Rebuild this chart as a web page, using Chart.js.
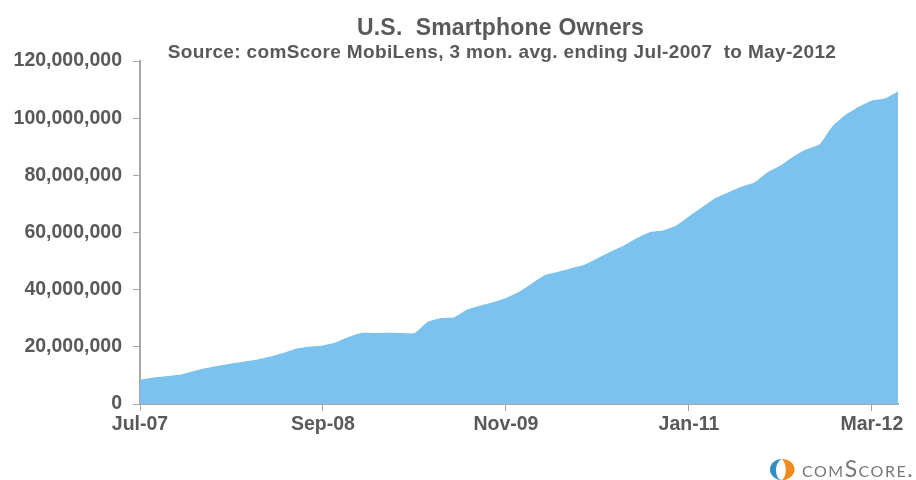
<!DOCTYPE html>
<html>
<head>
<meta charset="utf-8">
<script src="https://cdn.jsdelivr.net/npm/chart.js@4"></script>
<style>
  html, body { margin: 0; padding: 0; background: #fff; }
  .chart-box { position: relative; width: 916px; height: 480px; overflow: hidden; }
  .chart-head { position: absolute; left: 0; white-space: nowrap; text-align: center; color: #595959; font-family: "Liberation Sans", sans-serif; font-weight: bold; }
  #chart_title { top: 13px; width: 1001px; font-size: 23px; line-height: 28px; letter-spacing: 0.2px; }
  #chart_source { top: 41px; width: 1004px; font-size: 19px; line-height: 22px; letter-spacing: 0.35px; }
  .logo { position: absolute; left: 770px; top: 459px; width: 146px; height: 21px; }
  .logo svg { position: absolute; left: 0; top: 0; }
  .logo span {
    position: absolute; left: 32px; top: -5px;
    font: 23px Lato, sans-serif;
    font-variant: small-caps;
    letter-spacing: 1.5px;
    color: #777;
    white-space: nowrap;
  }
</style>
</head>
<body>
<div class="chart-box">
  <canvas id="owners_chart" width="916" height="480"></canvas>
  <div class="chart-head" id="chart_title">U.S.&nbsp; Smartphone Owners</div>
  <div class="chart-head" id="chart_source">Source: comScore MobiLens, 3 mon. avg. ending Jul-2007&nbsp; to May-2012</div>
  <div class="logo">
    <svg width="25" height="21" viewBox="0 0 25 21">
      <path d="M12 0 A12 10.5 0 0 0 12 21 C8 21 6 16 6 11 C6 6 8 2 12 0 Z" fill="#2f8fc6"/>
      <path d="M12 0 A12.5 10.5 0 0 1 12 21 C17 17 17 5 12 0 Z" fill="#f08c1e"/>
    </svg>
    <span>comScore.</span>
  </div>
</div>
<script>
const months = [
  "Jul-07", "Aug-07", "Sep-07", "Oct-07", "Nov-07", "Dec-07",
  "Jan-08", "Feb-08", "Mar-08", "Apr-08", "May-08", "Jun-08",
  "Jul-08", "Aug-08", "Sep-08", "Oct-08", "Nov-08", "Dec-08",
  "Jan-09", "Feb-09", "Mar-09", "Apr-09", "May-09", "Jun-09",
  "Jul-09", "Aug-09", "Sep-09", "Oct-09", "Nov-09", "Dec-09",
  "Jan-10", "Feb-10", "Mar-10", "Apr-10", "May-10", "Jun-10",
  "Jul-10", "Aug-10", "Sep-10", "Oct-10", "Nov-10", "Dec-10",
  "Jan-11", "Feb-11", "Mar-11", "Apr-11", "May-11", "Jun-11",
  "Jul-11", "Aug-11", "Sep-11", "Oct-11", "Nov-11", "Dec-11",
  "Jan-12", "Feb-12", "Mar-12", "Apr-12", "May-12",
];

const owners = [
  8.5, 9.3, 9.7, 10.2, 11.4, 12.5, 13.4, 14.2, 14.9, 15.6,
  16.6, 17.9, 19.4, 20.1, 20.5, 21.6, 23.5, 24.9, 24.8, 24.9,
  24.8, 24.8, 28.7, 30.1, 30.3, 33.0, 34.4, 35.6, 37.1, 39.3,
  42.2, 45.1, 46.3, 47.5, 48.7, 51.0, 53.3, 55.4, 58.0, 60.1,
  60.7, 62.4, 65.6, 68.8, 72.0, 74.0, 76.0, 77.5, 81.0, 83.4,
  86.6, 89.1, 90.9, 97.3, 101.2, 104.0, 106.2, 106.9, 109.3,
].map((v) => v * 1000000);

const labelEvery = 14;
const textColor = "#595959";
const axisColor = "#a6a6a6";

const ctx = document.getElementById("owners_chart").getContext("2d");

new Chart(ctx, {
  type: "line",
  data: {
    labels: months,
    datasets: [
      {
        label: "U.S. Smartphone Owners",
        data: owners,
        fill: "origin",
        backgroundColor: "#7cc2ee",
        borderWidth: 0,
        pointRadius: 0,
        tension: 0.15,
      },
    ],
  },
  options: {
    responsive: false,
    animation: false,
    layout: { padding: { left: 0, right: 18, top: 61, bottom: 0 } },
    plugins: {
      legend: { display: false },
      tooltip: { enabled: false },
    },
    scales: {
      x: {
        offset: false,
        grid: { drawOnChartArea: false, color: axisColor, tickLength: 7 },
        border: { color: axisColor, width: 2 },
        ticks: {
          autoSkip: false,
          maxRotation: 0,
          color: textColor,
          padding: 2,
          font: { family: "Liberation Sans", size: 19.5, weight: "bold" },
        },
        // one labelled tick every 14 months
        afterBuildTicks: (scale) => {
          scale.ticks = scale.ticks.filter((t) => t.value % labelEvery === 0);
        },
        afterFit: (scale) => {
          scale.height = 76;
        },
      },
      y: {
        min: 0,
        max: 120000000,
        grid: { drawOnChartArea: false, color: axisColor, tickLength: 7 },
        border: { color: axisColor, width: 2 },
        ticks: {
          stepSize: 20000000,
          color: textColor,
          padding: 11,
          font: { family: "Liberation Sans", size: 19.5, weight: "bold" },
          callback: (v) => v.toLocaleString("en-US"),
        },
        afterFit: (scale) => {
          scale.width = 140;
        },
      },
    },
  },
});
</script>
</body>
</html>
